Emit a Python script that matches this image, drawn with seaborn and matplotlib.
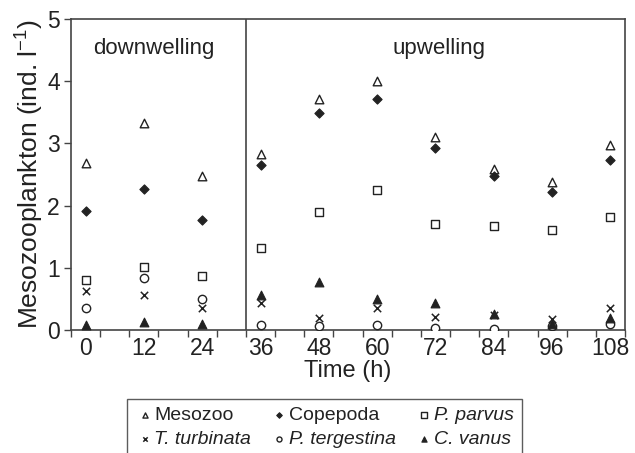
import numpy as np
import pandas as pd
import seaborn as sns
import matplotlib
matplotlib.use("Agg")
import matplotlib.pyplot as plt
from matplotlib.ticker import MultipleLocator, FixedLocator

# ---- data ----
time_h = [0, 12, 24, 36, 48, 60, 72, 84, 96, 108]
mesozoo = [2.69, 3.33, 2.48, 2.83, 3.71, 4.00, 3.10, 2.59, 2.38, 2.97]
copepoda = [1.91, 2.27, 1.77, 2.66, 3.49, 3.72, 2.92, 2.48, 2.22, 2.74]
p_parvus = [0.80, 1.01, 0.87, 1.32, 1.89, 2.25, 1.71, 1.68, 1.61, 1.81]
t_turbinata = [0.62, 0.56, 0.36, 0.44, 0.20, 0.35, 0.21, 0.24, 0.17, 0.36]
p_tergestina = [0.35, 0.84, 0.50, 0.08, 0.06, 0.08, 0.04, 0.02, 0.07, 0.10]
c_vanus = [0.08, 0.13, 0.09, 0.56, 0.77, 0.50, 0.43, 0.25, 0.09, 0.19]
series_names = ["Mesozoo", "Copepoda", "P. parvus", "T. turbinata", "P. tergestina", "C. vanus"]
ylabel = "Mesozooplankton (ind. l$^{-1}$)"
xlabel = "Time (h)"
phase_labels = ["downwelling", "upwelling"]

sns.set_theme(style="ticks")
plt.rcParams["font.family"] = ["Liberation Sans", "DejaVu Sans"]
plt.rcParams["mathtext.default"] = "regular"
INK = "#222222"

fig = plt.figure(figsize=(6.35, 4.53), dpi=100)
ax = fig.add_axes([71/635, 1-330/453, (625-71)/635, (330-19)/453])

styles = {
    "Mesozoo": dict(marker="^", facecolor="white", edgecolor=INK, s=38, lw=1.0),
    "Copepoda": dict(marker="D", facecolor=INK, edgecolor=INK, s=22, lw=0.8),
    "P. parvus": dict(marker="s", facecolor="white", edgecolor=INK, s=40, lw=1.0),
    "T. turbinata": dict(marker="x", facecolor=INK, edgecolor=INK, s=28, lw=1.1),
    "P. tergestina": dict(marker="o", facecolor="white", edgecolor=INK, s=36, lw=1.0),
    "C. vanus": dict(marker="^", facecolor=INK, edgecolor=INK, s=40, lw=0.8),
}
values = [mesozoo, copepoda, p_parvus, t_turbinata, p_tergestina, c_vanus]

for name, vals in zip(series_names, values):
    st = styles[name]
    df = pd.DataFrame({"t": time_h, "v": vals})
    if st["marker"] == "x":
        sns.scatterplot(data=df, x="t", y="v", ax=ax, marker="x", color=INK,
                        s=st["s"], linewidth=st["lw"], label=name, zorder=3)
    else:
        sns.scatterplot(data=df, x="t", y="v", ax=ax, marker=st["marker"],
                        facecolor=st["facecolor"], edgecolor=st["edgecolor"],
                        s=st["s"], linewidth=st["lw"], label=name, zorder=3)

h, l = ax.get_legend_handles_labels()
ax.get_legend().remove()
hmap = dict(zip(l, h))

ax.axvline(33, color="#444444", lw=1.2, zorder=2)

ax.set_xlim(-3, 111)
ax.set_ylim(0, 5)
ax.xaxis.set_major_locator(FixedLocator(time_h))
ax.xaxis.set_minor_locator(FixedLocator(list(range(-3, 112, 6))))
ax.yaxis.set_major_locator(MultipleLocator(1))
ax.tick_params(axis="x", which="major", length=0, labelsize=16.5, pad=5, colors=INK)
ax.tick_params(axis="x", which="minor", length=5, width=1.0, color="#444444")
ax.tick_params(axis="y", which="major", length=5, width=1.0, labelsize=16.5, pad=3, colors=INK, color="#444444")
for sp in ax.spines.values():
    sp.set_visible(True)
    sp.set_color("#444444")
    sp.set_linewidth(1.2)

ax.set_xlabel(xlabel, fontsize=17, color=INK, labelpad=0)
ax.set_ylabel(ylabel, fontsize=19, color=INK, labelpad=1)

ax.text((93 - 71) / 554, 0.94, phase_labels[0], transform=ax.transAxes,
        fontsize=16, color=INK, ha="left", va="top")
ax.text((393 - 71) / 554, 0.94, phase_labels[1], transform=ax.transAxes,
        fontsize=16, color=INK, ha="left", va="top")

order = ["Mesozoo", "T. turbinata", "Copepoda", "P. tergestina", "P. parvus", "C. vanus"]
leg = fig.legend([hmap[n] for n in order], order, ncol=3, loc="upper left",
                 bbox_to_anchor=(127/635, 1-399/453), frameon=True, fancybox=False,
                 fontsize=14, markerscale=0.6, handletextpad=0.0, columnspacing=0.95,
                 labelspacing=0.33, borderpad=0.4, handlelength=1.0, borderaxespad=0)
leg.get_frame().set_edgecolor("#333333")
leg.get_frame().set_linewidth(1.0)
for t in leg.get_texts():
    if t.get_text() not in ("Mesozoo", "Copepoda"):
        t.set_fontstyle("italic")
    t.set_color(INK)

fig.savefig("out.png", dpi=100)
